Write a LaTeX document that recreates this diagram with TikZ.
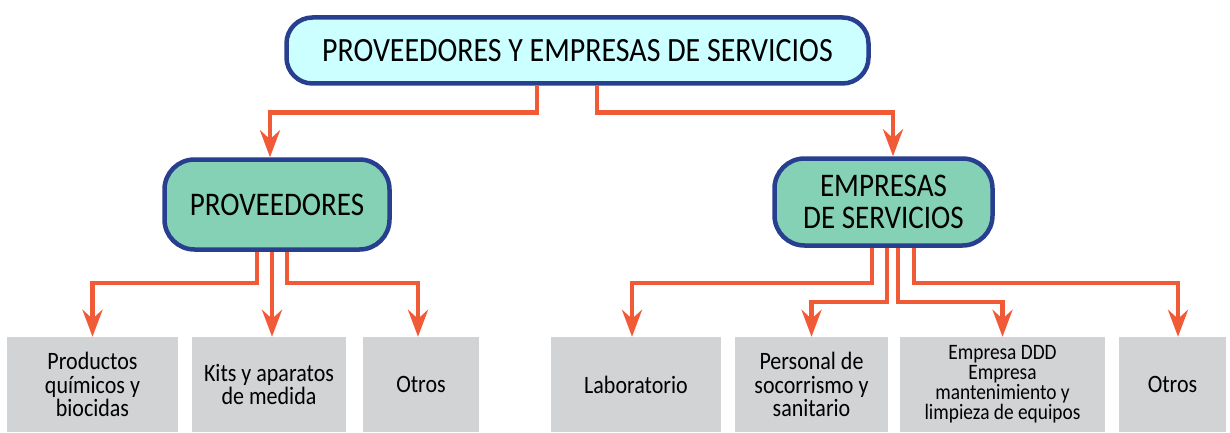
\documentclass[tikz,border=0pt]{standalone}
\usepackage{fontspec}
\setmainfont{Carlito}[FakeStretch=0.88]
\usetikzlibrary{arrows.meta}
\definecolor{conncol}{HTML}{F15A36}
\definecolor{bordercol}{HTML}{283F8F}
\definecolor{topfill}{HTML}{CCFFFF}
\definecolor{greenfill}{HTML}{84D1B5}
\definecolor{grayfill}{HTML}{D1D3D4}
\begin{document}
\begin{tikzpicture}[x=1pt,y=1pt,
  titlebox/.style={draw=bordercol, line width=4.5pt, fill=topfill, rounded corners=26pt,
    minimum width=582pt, minimum height=66pt, inner sep=0pt,
    font=\fontsize{34}{36}\selectfont},
  midbox/.style={draw=bordercol, line width=4.5pt, fill=greenfill, rounded corners=30pt,
    inner sep=0pt, align=center, font=\fontsize{33}{32}\selectfont},
  leafbox/.style={fill=grayfill, inner sep=0pt, minimum height=95pt, align=center,
    font=\fontsize{25}{23.5}\selectfont},
  conn/.style={draw=conncol, line width=4.5pt,
    -{Stealth[length=27pt,width=20pt,inset=9pt]}}
]
\useasboundingbox (0,0) rectangle (1230,-433);
\node[titlebox] (top) at (577.5,-50.5) {PROVEEDORES Y EMPRESAS DE SERVICIOS};
\node[midbox, minimum width=225pt, minimum height=90pt] (prov) at (277,-204.5) {PROVEEDORES};
\node[midbox, minimum width=218pt, minimum height=87pt] (emp) at (883.5,-202) {EMPRESAS\\DE SERVICIOS};

\node[leafbox, minimum width=171pt] (b1) at (92.5,-384.5) {Productos\\químicos y\\biocidas};
\node[leafbox, minimum width=154pt] (b2) at (269,-384.5) {Kits y aparatos\\de medida};
\node[leafbox, minimum width=116pt] (b3) at (421,-384.5) {Otros};
\node[leafbox, minimum width=170pt] (b4) at (636,-384.5) {Laboratorio};
\node[leafbox, minimum width=153pt] (b5) at (811.5,-384.5) {Personal de\\socorrismo y\\sanitario};
\node[leafbox, minimum width=205pt, font=\fontsize{22}{20}\selectfont] (b6) at (1002.5,-384.5) {Empresa DDD\\Empresa\\mantenimiento y\\limpieza de equipos};
\node[leafbox, minimum width=107pt] (b7) at (1172.5,-384.5) {Otros};

\draw[conn] ([xshift=-40.5pt]top.south) -- ++(0,-27) -| ([xshift=-7pt]prov.north);
\draw[conn] ([xshift=19.5pt]top.south) -- ++(0,-27) -| ([xshift=9.5pt]emp.north);

\draw[conn] ([xshift=-20pt]prov.south) -- ++(0,-31) -| (b1.north);
\draw[conn] ([xshift=-5pt]prov.south) -- ([xshift=-5pt]prov.south |- b2.north);
\draw[conn] ([xshift=10pt]prov.south) -- ++(0,-31) -| ([xshift=-3pt]b3.north);

\draw[conn] ([xshift=-11.5pt]emp.south) -- ++(0,-35) -| ([xshift=-4pt]b4.north);
\draw[conn] ([xshift=3.5pt]emp.south) -- ++(0,-54) -| (b5.north);
\draw[conn] ([xshift=14.5pt]emp.south) -- ++(0,-54) -| (b6.north);
\draw[conn] ([xshift=30.5pt]emp.south) -- ++(0,-35) -| ([xshift=5.5pt]b7.north);
\end{tikzpicture}
\end{document}
